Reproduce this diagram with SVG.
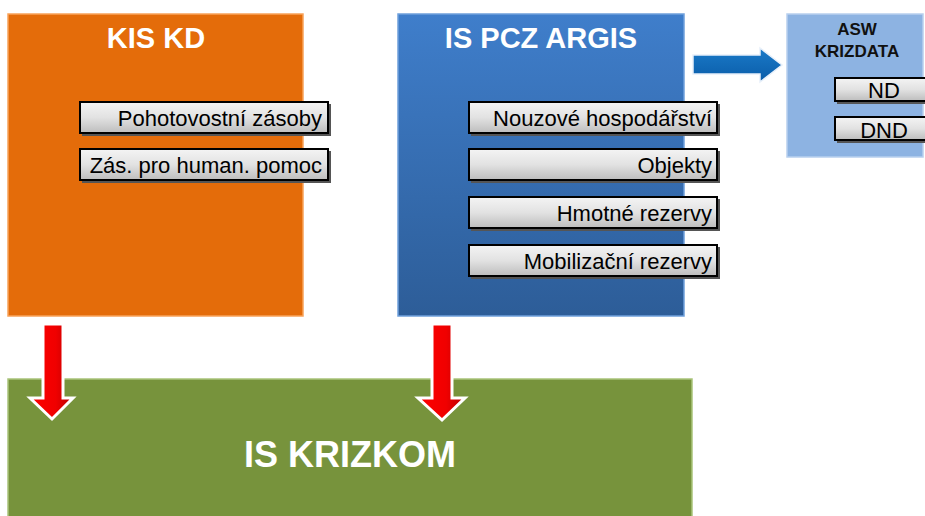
<svg xmlns="http://www.w3.org/2000/svg" width="925" height="516" viewBox="0 0 925 516">
<defs>
<linearGradient id="itemGrad" x1="0" y1="0" x2="0" y2="1">
<stop offset="0" stop-color="#f4f4f4"/>
<stop offset="0.5" stop-color="#e2e2e2"/>
<stop offset="1" stop-color="#bdbdbd"/>
</linearGradient>
<linearGradient id="blueGrad" x1="0" y1="0" x2="0" y2="1">
<stop offset="0" stop-color="#3f7ecb"/>
<stop offset="1" stop-color="#2d5d98"/>
</linearGradient>
<linearGradient id="redGrad" x1="0" y1="0" x2="1" y2="0">
<stop offset="0" stop-color="#ff0000"/>
<stop offset="0.6" stop-color="#f00000"/>
<stop offset="1" stop-color="#b80000"/>
</linearGradient>
<linearGradient id="arrowBlue" x1="0" y1="0" x2="0" y2="1">
<stop offset="0" stop-color="#1a7ac8"/>
<stop offset="1" stop-color="#0a5ca8"/>
</linearGradient>
</defs>
<style>
.item rect.sh{fill:#555;}
.item rect.b{fill:url(#itemGrad);stroke:#000;stroke-width:2;}
.item text{font-family:"Liberation Sans",Arial,sans-serif;font-size:22px;fill:#000;text-anchor:end;}
.title{font-family:"Liberation Sans",Arial,sans-serif;font-weight:bold;fill:#fff;text-anchor:middle;}
.asw{font-family:"Liberation Sans",Arial,sans-serif;font-weight:bold;font-size:17px;fill:#111;text-anchor:middle;}
.redarrow{fill:url(#redGrad);stroke:#fff;stroke-width:3;stroke-linejoin:miter;}
</style>
<rect width="925" height="516" fill="#fff"/>

<g id="kis-kd">
<rect x="8" y="14" width="295" height="302" fill="#e46c0a" stroke="#f9a35a" stroke-width="1.5"/>
<text class="title" x="156" y="48" font-size="29">KIS KD</text>
<g class="item" id="pohotovostni">
<rect class="sh" x="82" y="104" width="249" height="32"/>
<rect class="b" x="80" y="102" width="248" height="31"/>
<text x="322" y="126">Pohotovostní zásoby</text>
</g>
<g class="item" id="zas-human">
<rect class="sh" x="82" y="151" width="249" height="32"/>
<rect class="b" x="80" y="149" width="248" height="31"/>
<text x="322" y="173">Zás. pro human. pomoc</text>
</g>
</g>

<g id="is-pcz-argis">
<rect x="398" y="14" width="286" height="302" fill="url(#blueGrad)" stroke="#6fa0dc" stroke-width="1.5"/>
<text class="title" x="541" y="48" font-size="29">IS PCZ ARGIS</text>
<g class="item" id="nouzove">
<rect class="sh" x="471" y="104" width="249" height="32"/>
<rect class="b" x="469" y="102" width="248" height="31"/>
<text x="712" y="126">Nouzové hospodářství</text>
</g>
<g class="item" id="objekty">
<rect class="sh" x="471" y="151" width="249" height="32"/>
<rect class="b" x="469" y="149" width="248" height="31"/>
<text x="712" y="173">Objekty</text>
</g>
<g class="item" id="hmotne">
<rect class="sh" x="471" y="199" width="249" height="32"/>
<rect class="b" x="469" y="197" width="248" height="31"/>
<text x="712" y="221">Hmotné rezervy</text>
</g>
<g class="item" id="mobilizacni">
<rect class="sh" x="471" y="247" width="249" height="32"/>
<rect class="b" x="469" y="245" width="248" height="31"/>
<text x="712" y="269">Mobilizační rezervy</text>
</g>
</g>

<g id="asw-krizdata">
<rect x="787" y="14" width="136" height="143" fill="#8db3e2" stroke="#b8d0ee" stroke-width="1.5"/>
<text class="asw" x="857" y="35">ASW</text>
<text class="asw" x="857" y="57">KRIZDATA</text>
<g class="item" id="nd">
<rect class="sh" x="837" y="80" width="92" height="24"/>
<rect class="b" x="835" y="78" width="92" height="23"/>
<text x="884" y="98" style="text-anchor:middle">ND</text>
</g>
<g class="item" id="dnd">
<rect class="sh" x="837" y="119" width="92" height="24"/>
<rect class="b" x="835" y="117" width="92" height="23"/>
<text x="884" y="138" style="text-anchor:middle">DND</text>
</g>
</g>

<g id="is-krizkom">
<rect x="8" y="379" width="684" height="145" fill="#77933c" stroke="#a9c47a" stroke-width="1.5"/>
<text class="title" x="350" y="467" font-size="36">IS KRIZKOM</text>
</g>

<g id="connectors">
<path d="M693,55 L760,55 L760,48 L782,65 L760,82 L760,74 L693,74 Z" fill="url(#arrowBlue)" stroke="#e8f0fa" stroke-width="1.5"/>
<path class="redarrow" d="M43,324 L63,324 L63,398 L73,398 L52,419 L30,398 L43,398 Z"/>
<path class="redarrow" d="M432,324 L452,324 L452,398 L465,398 L442,420 L418,398 L432,398 Z"/>
</g>
</svg>
